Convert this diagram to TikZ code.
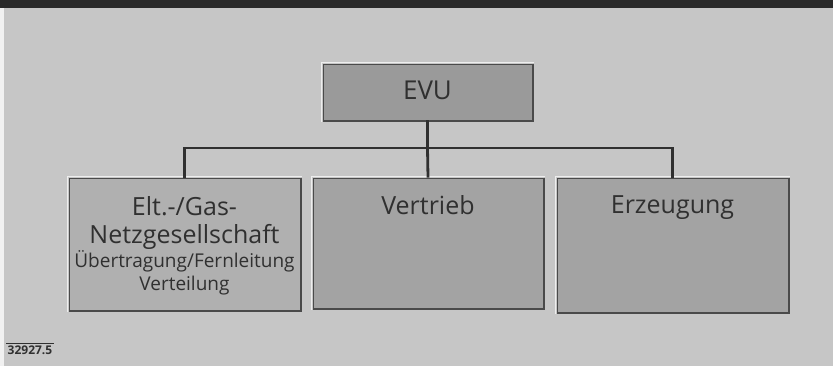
\documentclass[tikz,border=0pt]{standalone}
\usepackage{fontspec}
\setmainfont{Open Sans}
\definecolor{bg}{HTML}{C6C6C6}
\definecolor{band}{HTML}{2A2A2A}
\definecolor{boxA}{HTML}{9A9A9A}
\definecolor{boxB}{HTML}{B0B0B0}
\definecolor{boxC}{HTML}{A3A3A3}
\definecolor{ink}{HTML}{303030}
\definecolor{edgedark}{HTML}{4A4A4A}
\tikzset{
  box/.style={draw=edgedark, line width=0.7pt, inner sep=0pt, rectangle},
  conn/.style={draw=ink, line width=2.8pt},
  txt/.style={text=ink, inner sep=0pt, align=center},
}
\newcommand{\emboss}[1]{%
  \draw[white!70!bg, line width=1.2pt] ([xshift=-1.2pt,yshift=-1.2pt]#1.south west) -- ([xshift=-1.2pt,yshift=1.2pt]#1.north west) -- ([xshift=1.2pt,yshift=1.2pt]#1.north east);
  \draw[edgedark, line width=2pt] ([xshift=1pt]#1.north east) -- ([xshift=1pt,yshift=-1pt]#1.south east) -- ([yshift=-1pt]#1.south west);
}
\newcommand{\bigf}{\fontsize{25}{28}\selectfont}
\newcommand{\smallf}{\fontsize{19}{23}\selectfont}
\begin{document}
\begin{tikzpicture}[x=1pt,y=-1pt]
\fill[bg] (0,0) rectangle (833,366);
\useasboundingbox (0,0) rectangle (833,366);
\fill[band] (0,0) rectangle (833,8);
\fill[white!75!bg] (0,8) rectangle (4,366);

\node[box, fill=boxA, minimum width=209pt, minimum height=56pt] (evu) at (427.5,92) {};
\node[box, fill=boxB, minimum width=231pt, minimum height=132pt] (netz) at (184.5,244) {};
\node[box, fill=boxC, minimum width=230pt, minimum height=130pt] (vert) at (428,243) {};
\node[box, fill=boxC, minimum width=231pt, minimum height=134pt] (erz) at (672.5,245) {};
\emboss{evu}\emboss{netz}\emboss{vert}\emboss{erz}

\node[txt, font=\fontsize{26}{28}\selectfont] (evut) at ([yshift=2pt]evu.center) {EVU};
\node[txt, font=\bigf, anchor=north] (netzt1) at ([yshift=-19pt]netz.north) {Elt.-/Gas-\\Netzgesellschaft};
\node[txt, font=\smallf, anchor=north] (netzt2) at (netzt1.south) {Übertragung/Fernleitung\\Verteilung};
\node[txt, font=\bigf, anchor=north] (vertt) at ([yshift=-18pt]vert.north) {Vertrieb};
\node[txt, font=\bigf, anchor=north] (erzt) at ([yshift=-18pt]erz.north) {Erzeugung};

\coordinate (bus) at (427.5,148);
\draw[conn] (evu.south) -- (bus);
\draw[conn] (netz.north) |- (bus);
\draw[conn] (erz.north) |- (bus);
\draw[conn] (bus) -- (vert.north);

\node[txt, font=\bfseries\fontsize{12}{13}\selectfont, anchor=center, text=ink] (code) at (30,350) {32927.5};
\coordinate (codeL) at (6,343.5);
\coordinate (codeR) at (54,343.5);
\draw[ink, line width=1.4pt] (codeL) -- (codeR);
\end{tikzpicture}
\end{document}
